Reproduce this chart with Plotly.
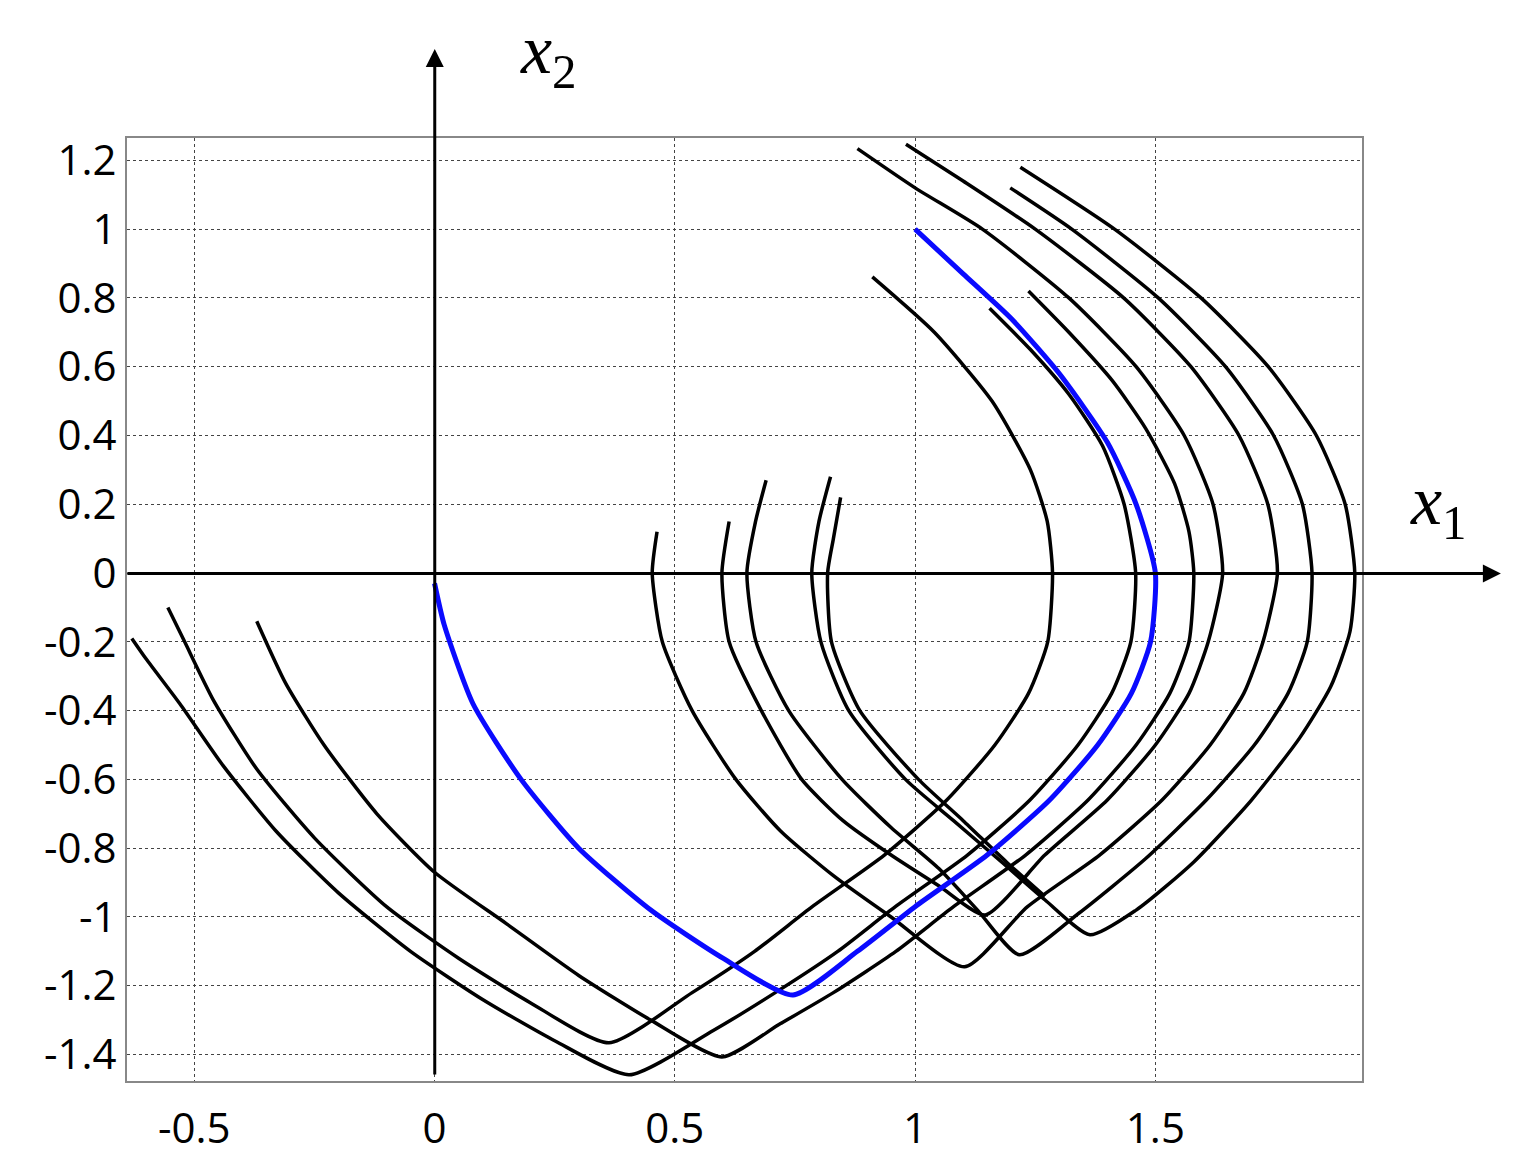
import plotly.graph_objects as go

# Blue trajectory
blue_x = [1.0, 1.1, 1.2, 1.3, 1.4, 1.46, 1.5, 1.49, 1.45, 1.38, 1.28, 1.15, 1.0, 0.88, 0.746, 0.6, 0.45, 0.3, 0.18, 0.08, 0.02, 0.0]
blue_y = [1.0, 0.87, 0.74, 0.58, 0.38, 0.2, 0.0, -0.2, -0.35, -0.5, -0.66, -0.82, -0.97, -1.1, -1.227, -1.12, -0.98, -0.8, -0.6, -0.38, -0.15, -0.03]

# Black trajectories (each a list of x and y)
L1_x = [0.911, 1.04, 1.16, 1.24, 1.275, 1.286, 1.276, 1.236, 1.166, 1.066, 0.936, 0.786, 0.666, 0.536, 0.363,
        0.2, 0.05, -0.1, -0.25, -0.37, -0.46, -0.52, -0.555]
L1_y = [0.861, 0.7, 0.5, 0.3, 0.15, 0.0, -0.2, -0.35, -0.5, -0.66, -0.82, -0.97, -1.1, -1.22, -1.366,
        -1.25, -1.12, -0.97, -0.77, -0.57, -0.37, -0.2, -0.1]

L2_x = [1.155, 1.24, 1.32, 1.39, 1.435, 1.459, 1.449, 1.409, 1.339, 1.239, 1.109, 0.959, 0.839, 0.709, 0.58, 0.405,
        0.25, 0.1, -0.05, -0.2, -0.33, -0.44, -0.53, -0.6, -0.63]
L2_y = [0.77, 0.65, 0.52, 0.37, 0.2, 0.0, -0.2, -0.35, -0.5, -0.66, -0.82, -0.97, -1.1, -1.22, -1.33, -1.459,
        -1.36, -1.24, -1.1, -0.93, -0.75, -0.56, -0.38, -0.25, -0.19]

L3_x = [1.236, 1.32, 1.41, 1.48, 1.54, 1.57, 1.58, 1.57, 1.53, 1.46, 1.36, 1.23, 1.08, 0.96, 0.83, 0.72, 0.598,
        0.45, 0.3, 0.15, 0.0, -0.12, -0.23, -0.31, -0.37]
L3_y = [0.82, 0.7, 0.56, 0.42, 0.26, 0.12, 0.0, -0.2, -0.35, -0.5, -0.66, -0.82, -0.97, -1.1, -1.22, -1.31, -1.407,
        -1.3, -1.17, -1.02, -0.87, -0.7, -0.5, -0.32, -0.14]

R1_x = [0.463, 0.453, 0.474, 0.536, 0.627, 0.72, 0.83, 0.95, 1.103,
        1.234, 1.384, 1.514, 1.614, 1.684, 1.724, 1.754, 1.734, 1.674, 1.574, 1.434, 1.25, 1.1, 0.981]
R1_y = [0.12, 0.0, -0.2, -0.4, -0.6, -0.75, -0.88, -1.0, -1.145,
        -0.97, -0.82, -0.66, -0.5, -0.35, -0.2, 0.0, 0.2, 0.4, 0.6, 0.8, 1.0, 1.14, 1.247]

R2_x = [0.613, 0.598, 0.613, 0.68, 0.764, 0.85, 0.95, 1.05, 1.146,
        1.27, 1.4, 1.5, 1.57, 1.61, 1.64, 1.62, 1.56, 1.46, 1.32, 1.14, 1.0, 0.88]
R2_y = [0.15, 0.0, -0.2, -0.4, -0.6, -0.72, -0.82, -0.91, -0.994,
        -0.82, -0.66, -0.5, -0.35, -0.2, 0.0, 0.2, 0.4, 0.6, 0.8, 1.0, 1.12, 1.234]

R3_x = [0.69, 0.668, 0.65, 0.669, 0.737, 0.848, 0.95, 1.05, 1.13, 1.217,
        1.34, 1.48, 1.606, 1.706, 1.776, 1.816, 1.826, 1.806, 1.746, 1.646, 1.506, 1.326, 1.198]
R3_y = [0.27, 0.15, 0.0, -0.2, -0.4, -0.6, -0.74, -0.86, -0.98, -1.11,
        -0.99, -0.83, -0.66, -0.5, -0.35, -0.2, 0.0, 0.2, 0.4, 0.6, 0.8, 1.0, 1.12]

R4_x = [0.824, 0.8, 0.785, 0.804, 0.862, 0.98, 1.08, 1.18, 1.27, 1.364,
        1.46, 1.58, 1.70, 1.80, 1.865, 1.905, 1.915, 1.895, 1.835, 1.735, 1.595, 1.415, 1.219]
R4_y = [0.28, 0.15, 0.0, -0.2, -0.4, -0.6, -0.72, -0.84, -0.95, -1.052,
        -0.98, -0.84, -0.66, -0.48, -0.33, -0.17, 0.0, 0.2, 0.4, 0.6, 0.8, 1.0, 1.18]

R5_x = [0.845, 0.83, 0.818, 0.826, 0.885, 1.007, 1.1, 1.19, 1.27]
R5_y = [0.22, 0.1, 0.0, -0.2, -0.4, -0.6, -0.72, -0.84, -0.94]

black_curves = [(L1_x, L1_y), (L2_x, L2_y), (L3_x, L3_y), (R1_x, R1_y), (R2_x, R2_y),
                (R3_x, R3_y), (R4_x, R4_y), (R5_x, R5_y)]

x_ticks = [-0.5, 0, 0.5, 1, 1.5]
x_tick_labels = ["-0.5", "0", "0.5", "1", "1.5"]
y_ticks = [-1.4, -1.2, -1.0, -0.8, -0.6, -0.4, -0.2, 0, 0.2, 0.4, 0.6, 0.8, 1.0, 1.2]
y_tick_labels = ["-1.4", "-1.2", "-1", "-0.8", "-0.6", "-0.4", "-0.2", "0", "0.2", "0.4", "0.6", "0.8", "1", "1.2"]

fig = go.Figure()
for cx, cy in black_curves:
    fig.add_trace(go.Scatter(x=cx, y=cy, mode="lines", showlegend=False,
                             line=dict(color="black", width=3.5, shape="spline", smoothing=0.6)))
fig.add_trace(go.Scatter(x=blue_x, y=blue_y, mode="lines", showlegend=False,
                         line=dict(color="#0a0aff", width=5, shape="spline", smoothing=0.6)))

W, H = 1522, 1173
SL, SR, ST, SB = 127, 1363, 137, 1081  # plot area on screen

def px(p):
    return (p - SL) / (SR - SL)

def py(p):
    return (SB - p) / (SB - ST)

# axes arrows
fig.add_annotation(x=px(1502), y=py(573), xref="paper", yref="paper", ax=127 - 1502, ay=0,
                   axref="pixel", ayref="pixel", showarrow=True, arrowhead=2, arrowsize=1.2, arrowwidth=3,
                   arrowcolor="black", text="")
fig.add_annotation(x=px(435), y=py(48), xref="paper", yref="paper", ax=0, ay=1075 - 48,
                   axref="pixel", ayref="pixel", showarrow=True, arrowhead=2, arrowsize=1.2, arrowwidth=3,
                   arrowcolor="black", text="")
fig.add_annotation(x=px(1470), y=py(505), xref="paper", yref="paper", showarrow=False,
                   text="<i>x</i><sub>1</sub>", font=dict(family="Liberation Serif", size=70, color="black"))
fig.add_annotation(x=px(518), y=py(8), xref="paper", yref="paper", showarrow=False, yanchor="top",
                   text="<i>x</i><sub>2</sub>", font=dict(family="Liberation Serif", size=70, color="black"))

axis_common = dict(showgrid=True, gridcolor="#444", griddash="dot", gridwidth=1.2,
                   showline=True, linecolor="#888", linewidth=2, mirror=True, zeroline=False,
                   ticks="", tickfont=dict(family="Open Sans", size=42, color="black"))
fig.update_xaxes(range=[-0.64, 1.93], tickvals=x_ticks, ticktext=x_tick_labels,
                 ticklabelstandoff=10, **axis_common)
fig.update_yaxes(range=[-1.477, 1.265], tickvals=y_ticks, ticktext=y_tick_labels, **axis_common)

fig.update_layout(width=W, height=H, margin=dict(l=119, r=168, t=130, b=100, autoexpand=False),
                  plot_bgcolor="white", paper_bgcolor="white")
fig.write_html("out.html")
